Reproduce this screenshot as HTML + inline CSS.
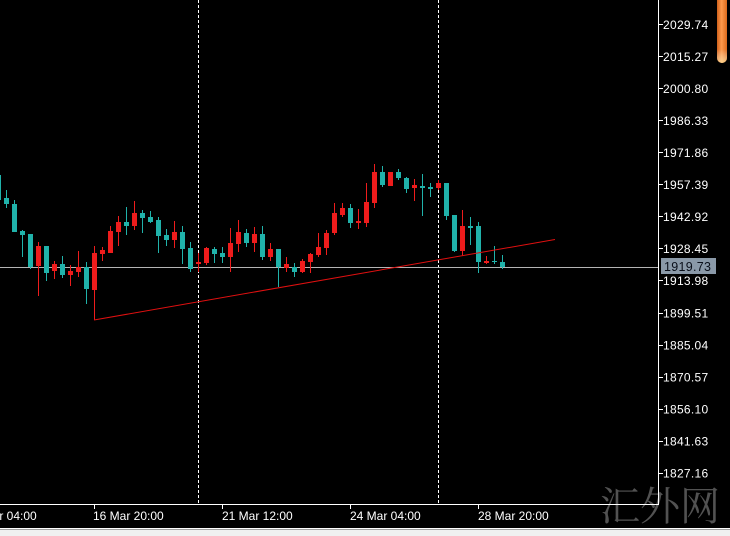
<!DOCTYPE html>
<html><head><meta charset="utf-8"><style>
html,body{margin:0;padding:0;background:#000;}
svg{display:block;}
.t{fill:#20b2aa}
.r{fill:#ee1c1c}
.ax{font-family:"Liberation Sans",sans-serif;font-size:12px;fill:#fff;}
</style></head><body>
<svg width="730" height="536" viewBox="0 0 730 536" xmlns="http://www.w3.org/2000/svg" shape-rendering="crispEdges">
<defs>
<linearGradient id="sb" x1="0" y1="0" x2="1" y2="0">
<stop offset="0" stop-color="#d0601a"/><stop offset="0.45" stop-color="#ff9a4c"/><stop offset="1" stop-color="#dc6a1c"/>
</linearGradient>
<linearGradient id="sb2" x1="0" y1="0" x2="0" y2="1">
<stop offset="0" stop-color="#fff" stop-opacity="0"/><stop offset="0.8" stop-color="#fff" stop-opacity="0"/><stop offset="1" stop-color="#ffe8a0" stop-opacity="0.7"/>
</linearGradient>
</defs>
<rect x="0" y="0" width="730" height="536" fill="#000"/>
<!-- period separators -->
<line x1="198.5" y1="0" x2="198.5" y2="504" stroke="#fff" stroke-width="1" stroke-dasharray="3,2"/>
<line x1="438.5" y1="0" x2="438.5" y2="504" stroke="#fff" stroke-width="1" stroke-dasharray="3,2"/>
<!-- price line -->
<rect x="0" y="267" width="658" height="1" fill="#b4b4b4"/>
<!-- candles -->
<g>
<rect class="t" x="-4" y="175" width="5" height="25"/>
<rect class="t" x="6" y="190" width="1" height="18"/><rect class="t" x="4" y="198" width="5" height="6"/>
<rect class="t" x="14" y="200" width="1" height="32"/><rect class="t" x="12" y="204" width="5" height="28"/>
<rect class="t" x="22" y="230" width="1" height="27"/><rect class="t" x="20" y="231" width="5" height="4"/>
<rect class="t" x="30" y="234" width="1" height="35"/><rect class="t" x="28" y="234" width="5" height="33"/>
<rect class="r" x="38" y="242" width="1" height="54"/><rect class="r" x="36" y="246" width="5" height="20"/>
<rect class="t" x="46" y="246" width="1" height="35"/><rect class="t" x="44" y="246" width="5" height="27"/>
<rect class="r" x="54" y="261" width="1" height="18"/><rect class="r" x="52" y="264" width="5" height="7"/>
<rect class="t" x="62" y="256" width="1" height="22"/><rect class="t" x="60" y="264" width="5" height="11"/>
<rect class="r" x="70" y="265" width="1" height="21"/><rect class="r" x="68" y="271" width="5" height="4"/>
<rect class="r" x="78" y="251" width="1" height="26"/><rect class="r" x="76" y="267" width="5" height="5"/>
<rect class="t" x="86" y="262" width="1" height="42"/><rect class="t" x="84" y="267" width="5" height="22"/>
<rect class="r" x="94" y="246" width="1" height="74"/><rect class="r" x="92" y="253" width="5" height="37"/>
<rect class="r" x="102" y="247" width="1" height="14"/><rect class="r" x="100" y="250" width="5" height="4"/>
<rect class="r" x="110" y="226" width="1" height="27"/><rect class="r" x="108" y="231" width="5" height="22"/>
<rect class="r" x="118" y="216" width="1" height="30"/><rect class="r" x="116" y="222" width="5" height="10"/>
<rect class="t" x="126" y="207" width="1" height="28"/><rect class="t" x="124" y="222" width="5" height="4"/>
<rect class="r" x="134" y="201" width="1" height="29"/><rect class="r" x="132" y="213" width="5" height="13"/>
<rect class="t" x="142" y="210" width="1" height="23"/><rect class="t" x="140" y="213" width="5" height="5"/>
<rect class="t" x="150" y="211" width="1" height="12"/><rect class="t" x="148" y="217" width="5" height="5"/>
<rect class="t" x="158" y="217" width="1" height="36"/><rect class="t" x="156" y="220" width="5" height="16"/>
<rect class="t" x="166" y="229" width="1" height="17"/><rect class="t" x="164" y="235" width="5" height="5"/>
<rect class="r" x="174" y="221" width="1" height="27"/><rect class="r" x="172" y="232" width="5" height="8"/>
<rect class="t" x="182" y="226" width="1" height="38"/><rect class="t" x="180" y="232" width="5" height="17"/>
<rect class="t" x="190" y="242" width="1" height="30"/><rect class="t" x="188" y="248" width="5" height="21"/>
<rect class="r" x="198" y="253" width="1" height="19"/><rect class="r" x="196" y="262" width="5" height="2"/>
<rect class="r" x="206" y="247" width="1" height="18"/><rect class="r" x="204" y="248" width="5" height="15"/>
<rect class="t" x="214" y="247" width="1" height="16"/><rect class="t" x="212" y="249" width="5" height="5"/>
<rect class="t" x="222" y="247" width="1" height="16"/><rect class="t" x="220" y="253" width="5" height="4"/>
<rect class="r" x="230" y="228" width="1" height="44"/><rect class="r" x="228" y="243" width="5" height="14"/>
<rect class="r" x="238" y="220" width="1" height="32"/><rect class="r" x="236" y="232" width="5" height="12"/>
<rect class="t" x="246" y="229" width="1" height="18"/><rect class="t" x="244" y="233" width="5" height="10"/>
<rect class="r" x="254" y="227" width="1" height="25"/><rect class="r" x="252" y="234" width="5" height="9"/>
<rect class="t" x="262" y="226" width="1" height="34"/><rect class="t" x="260" y="234" width="5" height="23"/>
<rect class="r" x="270" y="243" width="1" height="18"/><rect class="r" x="268" y="249" width="5" height="8"/>
<rect class="t" x="278" y="249" width="1" height="38"/><rect class="t" x="276" y="249" width="5" height="18"/>
<rect class="r" x="286" y="257" width="1" height="15"/><rect class="r" x="284" y="264" width="5" height="4"/>
<rect class="t" x="294" y="263" width="1" height="14"/><rect class="t" x="292" y="267" width="5" height="5"/>
<rect class="r" x="302" y="259" width="1" height="14"/><rect class="r" x="300" y="261" width="5" height="11"/>
<rect class="r" x="310" y="253" width="1" height="20"/><rect class="r" x="308" y="254" width="5" height="8"/>
<rect class="r" x="318" y="233" width="1" height="24"/><rect class="r" x="316" y="247" width="5" height="8"/>
<rect class="r" x="326" y="230" width="1" height="25"/><rect class="r" x="324" y="233" width="5" height="15"/>
<rect class="r" x="334" y="203" width="1" height="32"/><rect class="r" x="332" y="213" width="5" height="20"/>
<rect class="r" x="342" y="203" width="1" height="14"/><rect class="r" x="340" y="208" width="5" height="7"/>
<rect class="t" x="350" y="204" width="1" height="24"/><rect class="t" x="348" y="208" width="5" height="15"/>
<rect class="r" x="358" y="209" width="1" height="20"/><rect class="r" x="356" y="221" width="5" height="2"/>
<rect class="r" x="366" y="183" width="1" height="44"/><rect class="r" x="364" y="202" width="5" height="21"/>
<rect class="r" x="374" y="164" width="1" height="44"/><rect class="r" x="372" y="172" width="5" height="31"/>
<rect class="t" x="382" y="166" width="1" height="21"/><rect class="t" x="380" y="172" width="5" height="13"/>
<rect class="r" x="388" y="172" width="5" height="14"/>
<rect class="t" x="398" y="169" width="1" height="11"/><rect class="t" x="396" y="172" width="5" height="6"/>
<rect class="t" x="406" y="177" width="1" height="16"/><rect class="t" x="404" y="178" width="5" height="11"/>
<rect class="r" x="414" y="179" width="1" height="22"/><rect class="r" x="412" y="185" width="5" height="3"/>
<rect class="t" x="422" y="174" width="1" height="42"/><rect class="t" x="420" y="186" width="5" height="2"/>
<rect class="t" x="430" y="183" width="1" height="14"/><rect class="t" x="428" y="187" width="5" height="2"/>
<rect class="r" x="438" y="180" width="1" height="10"/><rect class="r" x="436" y="183" width="5" height="5"/>
<rect class="t" x="446" y="183" width="1" height="37"/><rect class="t" x="444" y="183" width="5" height="33"/>
<rect class="t" x="454" y="215" width="1" height="37"/><rect class="t" x="452" y="215" width="5" height="36"/>
<rect class="r" x="462" y="210" width="1" height="46"/><rect class="r" x="460" y="226" width="5" height="25"/>
<rect class="t" x="470" y="217" width="1" height="28"/><rect class="t" x="468" y="226" width="5" height="2"/>
<rect class="t" x="478" y="222" width="1" height="51"/><rect class="t" x="476" y="226" width="5" height="36"/>
<rect class="r" x="486" y="256" width="1" height="8"/><rect class="r" x="484" y="261" width="5" height="2"/>
<rect class="t" x="494" y="246" width="1" height="18"/><rect class="t" x="492" y="261" width="5" height="1"/>
<rect class="t" x="502" y="255" width="1" height="14"/><rect class="t" x="500" y="262" width="5" height="5"/>
</g>
<!-- trendline -->
<line x1="94" y1="320" x2="555" y2="239.5" stroke="#e01010" stroke-width="1" shape-rendering="auto"/>
<!-- axes -->
<rect x="658" y="0" width="1" height="505" fill="#fff"/>
<rect x="0" y="504" width="659" height="1" fill="#fff"/>
<!-- right ticks -->
<g fill="#fff">
<rect x="659" y="24" width="4" height="1"/><rect x="659" y="56" width="4" height="1"/><rect x="659" y="88" width="4" height="1"/>
<rect x="659" y="120" width="4" height="1"/><rect x="659" y="152" width="4" height="1"/><rect x="659" y="184" width="4" height="1"/>
<rect x="659" y="216" width="4" height="1"/><rect x="659" y="248" width="4" height="1"/><rect x="659" y="280" width="4" height="1"/>
<rect x="659" y="313" width="4" height="1"/><rect x="659" y="345" width="4" height="1"/><rect x="659" y="377" width="4" height="1"/>
<rect x="659" y="409" width="4" height="1"/><rect x="659" y="441" width="4" height="1"/><rect x="659" y="473" width="4" height="1"/>
<rect x="94" y="505" width="1" height="4"/><rect x="222" y="505" width="1" height="4"/><rect x="350" y="505" width="1" height="4"/><rect x="478" y="505" width="1" height="4"/>
</g>
<g class="ax" style="letter-spacing:0.3px">
<text x="663" y="29">2029.74</text>
<text x="663" y="61">2015.27</text>
<text x="663" y="93">2000.80</text>
<text x="663" y="125">1986.33</text>
<text x="663" y="157">1971.86</text>
<text x="663" y="189">1957.39</text>
<text x="663" y="221">1942.92</text>
<text x="663" y="253">1928.45</text>
<text x="663" y="285">1913.98</text>
<text x="663" y="317.5">1899.51</text>
<text x="663" y="349.5">1885.04</text>
<text x="663" y="381.5">1870.57</text>
<text x="663" y="413.5">1856.10</text>
<text x="663" y="445.5">1841.63</text>
<text x="663" y="477.5">1827.16</text>
</g>
<!-- current price label -->
<rect x="661" y="258" width="55" height="16" fill="#8a99a8"/>
<text x="664" y="271" font-family="Liberation Sans, sans-serif" font-size="12.5" fill="#0a0f1a" style="letter-spacing:0.3px">1919.73</text>
<!-- time labels -->
<g class="ax">
<text x="-34" y="520">12 Mar 04:00</text>
<text x="93" y="520">16 Mar 20:00</text>
<text x="222" y="520">21 Mar 12:00</text>
<text x="350" y="520">24 Mar 04:00</text>
<text x="478" y="520">28 Mar 20:00</text>
</g>
<!-- scrollbar -->
<rect x="717" y="-6" width="10" height="69" rx="5" fill="url(#sb)" shape-rendering="auto"/>
<rect x="717" y="-6" width="10" height="69" rx="5" fill="url(#sb2)" shape-rendering="auto"/>
<!-- bottom strip -->
<rect x="0" y="528" width="730" height="1" fill="#ffffff"/>
<rect x="0" y="529" width="730" height="1" fill="#a0a0a0"/>
<rect x="0" y="530" width="730" height="6" fill="#f0f0f0"/>
<!-- watermark -->
<text x="600" y="520" font-family="Noto Serif CJK SC, WenQuanYi Zen Hei, serif" font-size="40" fill="#fff" fill-opacity="0.32" shape-rendering="auto">汇外网</text>
</svg>
</body></html>
